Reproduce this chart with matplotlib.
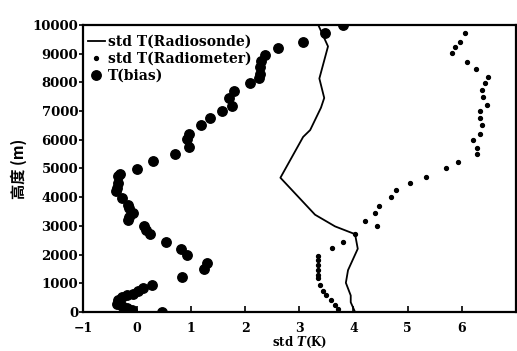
import matplotlib
matplotlib.use("Agg")
import matplotlib.pyplot as plt

# Radiosonde std T (solid line)
sonde_t = [3.35, 3.53, 3.37, 3.46, 3.40, 3.20, 3.07, 2.67, 2.65, 3.29, 3.66, 4.03, 4.08, 3.90, 3.86, 3.95, 3.95, 4.03]
sonde_h = [10000, 9254, 8136, 7458, 7119, 6339, 6100, 4746, 4678, 3390, 2983, 2712, 2203, 1458, 1017, 576, 339, 0]

# Radiometer std T (small dots)
meter_t = [6.06, 5.97, 5.88, 5.83, 6.10, 6.27, 6.48, 6.43, 6.38, 6.39, 6.47, 6.34, 6.34, 6.38, 6.34,
           6.21, 6.28, 6.28, 5.94, 5.72, 5.35, 5.04, 4.78, 4.69, 4.47, 4.39, 4.21, 4.43, 4.03, 3.81,
           3.61, 3.35, 3.35, 3.35, 3.35, 3.35, 3.35, 3.38, 3.44, 3.50, 3.59, 3.66, 3.72]
meter_h = [9729, 9424, 9220, 9017, 8712, 8475, 8203, 7966, 7729, 7492, 7220, 7017, 6746, 6508, 6203,
           6000, 5729, 5492, 5220, 5017, 4712, 4508, 4237, 4000, 3695, 3458, 3186, 2983, 2712, 2441,
           2237, 1966, 1797, 1627, 1458, 1288, 1186, 949, 746, 576, 407, 237, 102]

# T bias (large dots)
bias_t = [3.81, 3.48, 3.07, 2.60, 2.37, 2.30, 2.28, 2.28, 2.25, 2.08, 1.79, 1.70, 1.75, 1.57, 1.35,
          1.18, 0.96, 0.93, 0.96, 0.70, 0.30, -0.01, -0.32, -0.36, -0.36, -0.38, -0.39, -0.27, -0.17,
          -0.14, -0.08, -0.14, -0.17, 0.12, 0.17, 0.23, 0.54, 0.82, 0.93, 1.29, 1.24, 0.83, 0.27, 0.11,
          0.01, -0.08, -0.19, -0.28, -0.36, -0.38, -0.28, -0.19, -0.10, 0.47]
bias_h = [10000, 9729, 9424, 9186, 8949, 8746, 8542, 8305, 8169, 7966, 7695, 7458, 7186, 7017, 6746,
          6508, 6203, 6034, 5763, 5492, 5254, 4983, 4813, 4746, 4508, 4305, 4203, 3966, 3729,
          3627, 3458, 3322, 3220, 2983, 2847, 2712, 2441, 2203, 2000, 1695, 1492, 1220, 949, 847,
          746, 644, 576, 508, 407, 271, 203, 136, 68, 0]

xticks = [-1, 0, 1, 2, 3, 4, 5, 6]
yticks = [0, 1000, 2000, 3000, 4000, 5000, 6000, 7000, 8000, 9000, 10000]

serif = ["DejaVu Serif"]
plt.rcParams["font.family"] = serif
plt.rcParams["font.weight"] = "bold"
plt.rcParams["mathtext.fontset"] = "dejavuserif"

fig = plt.figure(figsize=(5.17, 3.51), dpi=100)
# axes: left 83 px, right 517 px, top 25 px, bottom 312 px
ax = fig.add_axes([0.1605, 0.1111, 0.837, 0.8177])

ax.plot(sonde_t, sonde_h, color="black", lw=1.3, label="std T(Radiosonde)", zorder=2)
ax.plot(meter_t, meter_h, ls="none", marker="o", ms=2.8, color="black", label="std T(Radiometer)", zorder=3)
ax.plot(bias_t, bias_h, ls="none", marker="o", ms=6.8, color="black", label="T(bias)", zorder=4)

ax.set_xlim(-1, 7)
ax.set_ylim(0, 10000)
ax.set_xticks(xticks)
ax.set_yticks(yticks)
ax.set_xticklabels([str(v).replace("-", "\u2212") for v in xticks], fontsize=9, fontweight="bold")
ax.set_yticklabels([str(v) for v in yticks], fontsize=9.5, fontweight="bold")
ax.tick_params(axis="x", direction="in", length=4, width=1.2, pad=7.5)
ax.tick_params(axis="y", direction="out", length=3, width=1.2, pad=0.5)
for sp in ax.spines.values():
    sp.set_linewidth(1.6)

ax.set_xlabel("std $\\mathbfit{T}$(K)", fontsize=8.5, fontweight="bold", labelpad=-0.5)
ax.set_ylabel("高度 (m)", fontsize=11, fontweight="bold",
              family=["Noto Sans CJK SC", "DejaVu Sans"], labelpad=4)

leg = ax.legend(loc="upper left", bbox_to_anchor=(-0.008, 0.995), frameon=False,
                prop={"family": serif, "weight": "bold", "size": 10},
                handlelength=1.2, handletextpad=0.25, labelspacing=0.22, borderaxespad=0.2)

fig.savefig("out.png", dpi=100)
